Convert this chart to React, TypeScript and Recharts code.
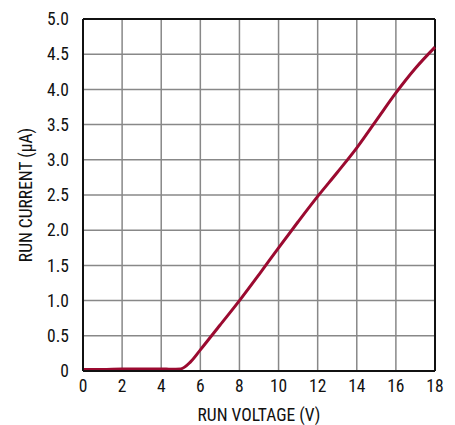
import React from 'react';
import { LineChart, Line, XAxis, YAxis, CartesianGrid, ReferenceLine, Label } from 'recharts';

const voltage = [0, 1, 2, 3, 4, 4.5, 5, 5.5, 6, 7, 8, 9, 10, 11, 12, 13, 14, 15, 16, 17, 18];
const current = [0.02, 0.02, 0.03, 0.03, 0.03, 0.025, 0.03, 0.13, 0.3, 0.65, 1.0, 1.37, 1.75, 2.12, 2.48, 2.82, 3.17, 3.56, 3.95, 4.3, 4.6];
const xTicks = [0, 2, 4, 6, 8, 10, 12, 14, 16, 18];
const yTicks = [0, 0.5, 1, 1.5, 2, 2.5, 3, 3.5, 4, 4.5, 5];

const data = voltage.map((v, i) => ({ v, i: current[i] }));

const FONT = '"Liberation Sans Narrow", "Roboto Condensed", "Liberation Sans", Arial, sans-serif';

export default function App() {
  return (
    <div style={{ position: 'absolute', left: 0, top: 0, width: 455, height: 425, background: '#fff' }}>
      <LineChart width={455} height={425} data={data} margin={{ top: 19, right: 20, left: 0, bottom: 0 }}>
        <CartesianGrid stroke="#888" strokeWidth={1.5} />
        <XAxis
          dataKey="v"
          type="number"
          domain={[0, 18]}
          ticks={xTicks}
          height={54}
          tickLine={false}
          axisLine={{ stroke: '#111', strokeWidth: 2 }}
          tick={{ fill: '#111', fontSize: 17.5, fontFamily: FONT }}
          tickMargin={3}
          interval={0}
        >
          <Label value="RUN VOLTAGE (V)" position="insideBottom" offset={4} style={{ fill: '#111', fontSize: 17.5, fontFamily: FONT }} />
        </XAxis>
        <YAxis
          type="number"
          domain={[0, 5]}
          ticks={yTicks}
          width={83}
          tickLine={false}
          axisLine={{ stroke: '#111', strokeWidth: 2 }}
          tick={{ fill: '#111', fontSize: 17.5, fontFamily: FONT }}
          tickMargin={8}
          interval={0}
          tickFormatter={(t: number) => (t === 0 ? '0' : t.toFixed(1))}
        >
          <Label value="RUN CURRENT (µA)" angle={-90} position="insideLeft" offset={26} style={{ textAnchor: 'middle', fill: '#111', fontSize: 17.5, fontFamily: FONT }} />
        </YAxis>
        <ReferenceLine y={5} stroke="#111" strokeWidth={2} />
        <ReferenceLine x={18} stroke="#111" strokeWidth={2} />
        <Line dataKey="i" type="monotone" stroke="#9b0a30" strokeWidth={3} dot={false} isAnimationActive={false} />
      </LineChart>
    </div>
  );
}
